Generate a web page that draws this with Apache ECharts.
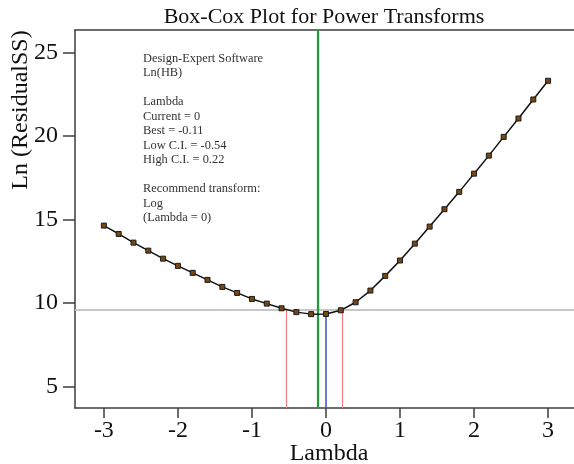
<!DOCTYPE html>
<html>
<head>
<meta charset="utf-8">
<script src="https://cdn.jsdelivr.net/npm/echarts@6/dist/echarts.min.js"></script>
<style>
  html, body { margin: 0; padding: 0; background: #fff; }
  #chart { width: 574px; height: 464px; }
</style>
</head>
<body>
<div id="chart"></div>
<script>
// lambda grid and Ln(ResidualSS)
const lambdas = [-3.0, -2.8, -2.6, -2.4, -2.2, -2.0, -1.8, -1.6, -1.4, -1.2, -1.0,
  -0.8, -0.6, -0.4, -0.2, 0.0, 0.2, 0.4, 0.6, 0.8, 1.0,
  1.2, 1.4, 1.6, 1.8, 2.0, 2.2, 2.4, 2.6, 2.8, 3.0]
const lnResidualSS = [14.64, 14.14, 13.62, 13.14, 12.66, 12.23, 11.81, 11.39, 10.97, 10.61, 10.25,
  9.97, 9.69, 9.46, 9.34, 9.35, 9.57, 10.05, 10.75, 11.63, 12.55,
  13.56, 14.58, 15.62, 16.66, 17.75, 18.83, 19.95, 21.05, 22.19, 23.31]
const xTicks = [-3, -2, -1, 0, 1, 2, 3]
const yTicks = [5, 10, 15, 20, 25]

const current = 0
const best = -0.11
const lowCI = -0.54
const highCI = 0.22
const ciThreshold = 9.6
const currentValue = 9.35

const X_MIN = -3.39, X_MAX = 3.35
const Y_MIN = 3.72, Y_MAX = 26.35

const infoLines = [
  'Design-Expert Software',
  'Ln(HB)',
  '',
  'Lambda',
  'Current = ' + current,
  'Best = ' + best,
  'Low C.I. = ' + lowCI,
  'High C.I. = ' + highCI,
  '',
  'Recommend transform:',
  'Log',
  '(Lambda = 0)'
]

const serif = 'Liberation Serif'
const axisColor = '#3c3c3c'

const chart = echarts.init(document.getElementById('chart'))

const option = {
  animation: false,
  backgroundColor: '#fff',
  title: {
    text: 'Box-Cox Plot for Power Transforms',
    left: 324, textAlign: 'center',
    top: 6, padding: 0,
    textStyle: { fontFamily: serif, fontSize: 22, fontWeight: 'normal', color: '#111' }
  },
  grid: { left: 75, right: 0, top: 30, bottom: 56, outerBoundsMode: 'none' },
  xAxis: [{
    type: 'value',
    min: X_MIN, max: X_MAX,
    splitLine: { show: false },
    axisLine: { lineStyle: { color: axisColor, width: 1.5 } },
    axisTick: { length: 10, lineStyle: { color: axisColor, width: 1.5 }, customValues: xTicks },
    axisLabel: { customValues: xTicks, margin: 11, fontFamily: serif, fontSize: 24, color: '#111' }
  }, {
    type: 'value',
    position: 'top',
    min: X_MIN, max: X_MAX,
    splitLine: { show: false },
    axisLine: { show: true, onZero: false, lineStyle: { color: axisColor, width: 1.5 } },
    axisTick: { show: false },
    axisLabel: { show: false }
  }],
  yAxis: {
    type: 'value',
    min: Y_MIN, max: Y_MAX,
    splitLine: { show: false },
    axisLine: { show: true, onZero: false, lineStyle: { color: axisColor, width: 1.5 } },
    axisTick: { show: true, length: 12, lineStyle: { color: axisColor, width: 1.5 }, customValues: yTicks },
    axisLabel: { customValues: yTicks, margin: 17, fontFamily: serif, fontSize: 24, color: '#111' }
  },
  graphic: [{
    type: 'text',
    left: 143, top: 51,
    style: {
      text: infoLines.join('\n'),
      font: '12.4px "Liberation Serif"',
      lineHeight: 14.5,
      fill: '#333'
    }
  }, {
    type: 'text',
    x: 21, y: 110,
    rotation: Math.PI / 2,
    style: {
      text: 'Ln (ResidualSS)',
      font: '24px "Liberation Serif"',
      fill: '#111',
      textAlign: 'center',
      textVerticalAlign: 'middle'
    }
  }, {
    type: 'text',
    x: 329, y: 454,
    style: {
      text: 'Lambda',
      font: '24px "Liberation Serif"',
      fill: '#111',
      textAlign: 'center',
      textVerticalAlign: 'middle'
    }
  }],
  series: [{
    type: 'line',
    data: [],
    silent: true,
    markLine: {
      symbol: 'none',
      silent: true,
      label: { show: false },
      data: [
        { yAxis: ciThreshold, lineStyle: { color: '#c8c8c8', width: 2, type: 'solid' } },
        [{ coord: [lowCI, Y_MIN], lineStyle: { color: '#f08080', width: 1.2, type: 'solid' } }, { coord: [lowCI, ciThreshold] }],
        [{ coord: [highCI, Y_MIN], lineStyle: { color: '#f08080', width: 1.2, type: 'solid' } }, { coord: [highCI, ciThreshold] }],
        [{ coord: [current, Y_MIN], lineStyle: { color: '#3a4fc0', width: 1.5, type: 'solid' } }, { coord: [current, currentValue] }],
        { xAxis: best, lineStyle: { color: '#1e9c3c', width: 2.2, type: 'solid' } }
      ]
    }
  }, {
    type: 'line',
    data: lambdas.map((l, i) => [l, lnResidualSS[i]]),
    symbol: 'rect',
    symbolSize: 5,
    showSymbol: true,
    lineStyle: { color: '#111', width: 1.5 },
    itemStyle: { color: '#7a4612', borderColor: '#1a1a1a', borderWidth: 1 },
    z: 5
  }]
}

chart.setOption(option)
</script>
</body>
</html>
